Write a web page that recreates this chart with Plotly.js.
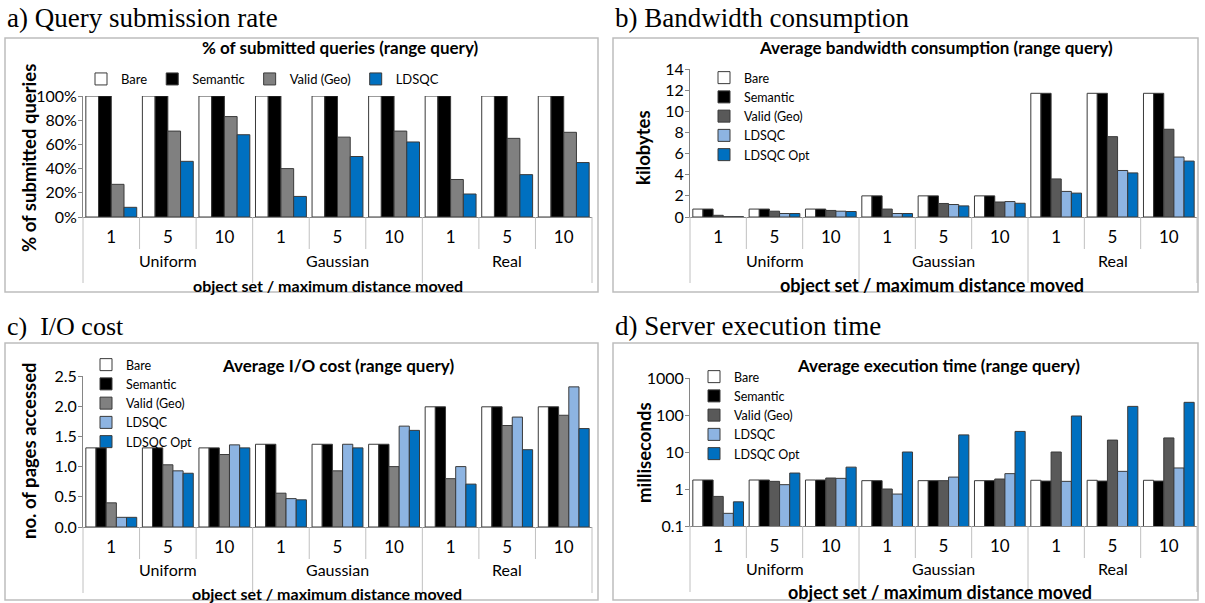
<!DOCTYPE html>
<html>
<head>
<meta charset="utf-8">
<script src="https://cdn.plot.ly/plotly-3.0.1.min.js"></script>
<style>html,body{margin:0;padding:0;background:#fff}#chart{width:1205px;height:603px}</style>
</head>
<body>
<div id="chart"></div>
<script>
// ---------- DATA ----------
const groups = ['Uniform', 'Gaussian', 'Real'];
const distances = ['1', '5', '10'];

// a) % of submitted queries
const submittedBare     = [100, 100, 100, 100, 100, 100, 100, 100, 100];
const submittedSemantic = [100, 100, 100, 100, 100, 100, 100, 100, 100];
const submittedValidGeo = [27, 71, 83, 40, 66, 71, 31, 65, 70];
const submittedLDSQC    = [8, 46, 68, 17, 50, 62, 19, 35, 45];

// b) average bandwidth consumption (kilobytes)
const bandwidthBare      = [0.75, 0.75, 0.75, 2.0, 2.0, 2.0, 11.7, 11.7, 11.7];
const bandwidthSemantic  = [0.75, 0.75, 0.75, 2.0, 2.0, 2.0, 11.7, 11.7, 11.7];
const bandwidthValidGeo  = [0.16, 0.55, 0.62, 0.75, 1.28, 1.42, 3.6, 7.6, 8.3];
const bandwidthLDSQC     = [0.03, 0.33, 0.55, 0.33, 1.18, 1.46, 2.42, 4.4, 5.67];
const bandwidthLDSQCOpt  = [0.03, 0.33, 0.52, 0.33, 1.05, 1.3, 2.26, 4.17, 5.29];

// c) average I/O cost (no. of pages accessed)
const ioBare      = [1.31, 1.31, 1.31, 1.37, 1.37, 1.37, 1.99, 1.99, 1.99];
const ioSemantic  = [1.31, 1.31, 1.31, 1.37, 1.37, 1.37, 1.99, 1.99, 1.99];
const ioValidGeo  = [0.40, 1.03, 1.20, 0.56, 0.93, 1.00, 0.80, 1.68, 1.85];
const ioLDSQC     = [0.16, 0.93, 1.36, 0.47, 1.37, 1.67, 1.00, 1.82, 2.32];
const ioLDSQCOpt  = [0.16, 0.89, 1.31, 0.45, 1.31, 1.60, 0.71, 1.28, 1.63];

// d) average execution time (milliseconds, log scale)
const timeBare      = [1.75, 1.75, 1.75, 1.68, 1.68, 1.68, 1.72, 1.72, 1.72];
const timeSemantic  = [1.75, 1.75, 1.75, 1.68, 1.68, 1.68, 1.64, 1.64, 1.64];
const timeValidGeo  = [0.63, 1.61, 1.98, 1.0, 1.68, 1.86, 10, 21, 24];
const timeLDSQC     = [0.22, 1.31, 1.94, 0.73, 2.1, 2.6, 1.61, 3.0, 3.7];
const timeLDSQCOpt  = [0.45, 2.7, 3.9, 10, 29, 36, 94, 171, 220];

const timeTickVals = [0.1, 1, 10, 100, 1000];

// ---------- LAYOUT HELPERS ----------
const W = 1205, H = 603;
const px = v => v / W;
const py = v => 1 - v / H;
const FONT = 'Lato, "Open Sans", sans-serif';
const SERIF = '"Liberation Serif", "DejaVu Serif", serif';
const categories = [];
groups.forEach(g => distances.forEach(d => categories.push(g + ' ' + d)));
const tickText = [];
groups.forEach(() => distances.forEach(d => tickText.push(d)));

const C = {bare: '#FFFFFF', sem: '#000000', validLight: '#808080', validDark: '#595959',
           ldsqcLight: '#8DB4E2', blue: '#0070C0'};

const panels = [
  {xa: 'x', ya: 'y', lg: 'legend', x0: 83, x1: 592, yTop: 96, yBot: 217,
   box: [5, 38, 598, 292], label: 'a) Query submission rate', ls: 27, lx: 5, ly: 18,
   title: '% of submitted queries (range query)', tx: 340, ty: 48,
   ytitle: '% of submitted queries', ytx: 29, yty: 158, yts: 18.5,
   xtitle: 'object set / maximum distance moved', xtx: 328, xty: 285, xts: 16,
   groupY: 261,
   yaxis: {range: [0, 100], dtick: 20, ticksuffix: '%'},
   legend: {orientation: 'h', x: px(81), y: py(64), font: {family: FONT, size: 13, color: '#000'}},
   series: [['Bare', submittedBare, C.bare], ['Semantic', submittedSemantic, C.sem],
            ['Valid (Geo)', submittedValidGeo, C.validLight], ['LDSQC', submittedLDSQC, C.blue]]},
  {xa: 'x2', ya: 'y2', lg: 'legend2', x0: 690, x1: 1197, yTop: 69, yBot: 217,
   box: [613, 38, 1198, 292], label: 'b) Bandwidth consumption', ls: 27, lx: 613, ly: 18,
   title: 'Average bandwidth consumption (range query)', tx: 936, ty: 48,
   ytitle: 'kilobytes', ytx: 643, yty: 148, yts: 18.5,
   xtitle: 'object set / maximum distance moved', xtx: 932, xty: 285, xts: 18,
   groupY: 260,
   yaxis: {range: [0, 14], dtick: 2},
   legend: {orientation: 'v', x: px(704), y: py(63)},
   series: [['Bare', bandwidthBare, C.bare], ['Semantic', bandwidthSemantic, C.sem],
            ['Valid (Geo)', bandwidthValidGeo, C.validDark], ['LDSQC', bandwidthLDSQC, C.ldsqcLight],
            ['LDSQC Opt', bandwidthLDSQCOpt, C.blue]]},
  {xa: 'x3', ya: 'y3', lg: 'legend3', x0: 83, x1: 592, yTop: 376, yBot: 527,
   box: [5, 343, 598, 600], label: 'c)\u00a0 I/O cost', ls: 26, lx: 5, ly: 326,
   title: 'Average I/O cost (range query)', tx: 338, ty: 365,
   ytitle: 'no. of pages accessed', ytx: 29, yty: 451, yts: 18.5,
   xtitle: 'object set / maximum distance moved', xtx: 327, xty: 593, xts: 16,
   groupY: 569,
   yaxis: {range: [0, 2.5], dtick: 0.5, tickformat: '.1f'},
   legend: {orientation: 'v', x: px(86), y: py(350)},
   series: [['Bare', ioBare, C.bare], ['Semantic', ioSemantic, C.sem],
            ['Valid (Geo)', ioValidGeo, C.validLight], ['LDSQC', ioLDSQC, C.ldsqcLight],
            ['LDSQC Opt', ioLDSQCOpt, C.blue]]},
  {xa: 'x4', ya: 'y4', lg: 'legend4', x0: 690, x1: 1197, yTop: 378, yBot: 526,
   box: [613, 343, 1198, 600], label: 'd) Server execution time', ls: 27, lx: 613, ly: 326,
   title: 'Average execution time (range query)', tx: 938, ty: 365,
   ytitle: 'milliseconds', ytx: 644, yty: 453, yts: 18.5,
   xtitle: 'object set / maximum distance moved', xtx: 940, xty: 592, xts: 18,
   groupY: 568,
   yaxis: {type: 'log', range: [-1, 3], tickmode: 'array', tickvals: timeTickVals,
           ticktext: timeTickVals.map(v => String(v))},
   legend: {orientation: 'v', x: px(694), y: py(362)},
   series: [['Bare', timeBare, C.bare], ['Semantic', timeSemantic, C.sem],
            ['Valid (Geo)', timeValidGeo, C.validDark], ['LDSQC', timeLDSQC, C.ldsqcLight],
            ['LDSQC Opt', timeLDSQCOpt, C.blue]]}
];

const traces = [];
const layout = {
  width: W, height: H, margin: {l: 0, r: 0, t: 0, b: 0},
  paper_bgcolor: '#fff', plot_bgcolor: 'rgba(0,0,0,0)',
  barmode: 'group', bargap: 0.1, bargroupgap: 0,
  showlegend: true, hovermode: false,
  font: {family: FONT, color: '#000'},
  shapes: [], annotations: []
};

panels.forEach(p => {
  p.series.forEach(([name, vals, color]) => {
    traces.push({
      type: 'bar', name: name, x: categories, y: vals,
      xaxis: p.xa, yaxis: p.ya, legend: p.lg,
      marker: {color: color, line: {color: '#3a3a3a', width: 1}}
    });
  });
  const xKey = 'xaxis' + p.xa.slice(1);
  const yKey = 'yaxis' + p.ya.slice(1);
  layout[xKey] = {
    domain: [px(p.x0), px(p.x1)], anchor: p.ya, type: 'category',
    range: [-0.5, categories.length - 0.5],
    tickmode: 'array', tickvals: categories, ticktext: tickText,
    ticks: '', showgrid: false, zeroline: false,
    showline: true, linecolor: '#868686', linewidth: 1,
    tickfont: {family: FONT, size: 17, color: '#000'}, ticklabelstandoff: 5,
    fixedrange: true
  };
  layout[yKey] = Object.assign({
    domain: [py(p.yBot), py(p.yTop)], anchor: p.xa,
    showgrid: false, zeroline: false, showline: true, linecolor: '#868686', linewidth: 1,
    ticks: 'outside', ticklen: 4, tickcolor: '#868686', ticklabelstandoff: -2,
    tickfont: {family: FONT, size: 16, color: '#000'}, fixedrange: true
  }, p.yaxis);
  layout[p.lg] = Object.assign({
    xanchor: 'left', yanchor: 'top', bgcolor: 'rgba(0,0,0,0)', borderwidth: 0,
    font: {family: FONT, size: 12.5, color: '#000'}, traceorder: 'normal'
  }, p.legend);

  // panel frame
  layout.shapes.push({type: 'rect', xref: 'paper', yref: 'paper',
    x0: px(p.box[0]), x1: px(p.box[2]), y0: py(p.box[3]), y1: py(p.box[1]),
    line: {color: '#bdbdbd', width: 1.5}, layer: 'below'});
  // category dividers
  const n = categories.length;
  for (let i = 0; i <= n; i++) {
    const outer = i % distances.length === 0;
    layout.shapes.push({type: 'line', xref: p.xa + ' domain', yref: 'paper',
      x0: i / n, x1: i / n, y0: py(p.yBot), y1: py(p.yBot + (outer ? 66 : 32)),
      line: {color: '#c0c0c0', width: 1}});
  }
  // group labels
  groups.forEach((g, gi) => {
    layout.annotations.push({xref: p.xa + ' domain', yref: 'paper',
      x: (gi * distances.length + distances.length / 2) / n, y: py(p.groupY),
      text: g, showarrow: false, xanchor: 'center', yanchor: 'middle',
      font: {family: FONT, size: 16, color: '#000'}});
  });
  // texts
  layout.annotations.push(
    {xref: 'paper', yref: 'paper', x: px(p.lx), y: py(p.ly), text: p.label, showarrow: false,
     xanchor: 'left', yanchor: 'middle', font: {family: SERIF, size: p.ls, color: '#000'}},
    {xref: 'paper', yref: 'paper', x: px(p.tx), y: py(p.ty), text: '<b>' + p.title + '</b>', showarrow: false,
     xanchor: 'center', yanchor: 'middle', font: {family: FONT, size: 17, color: '#000'}},
    {xref: 'paper', yref: 'paper', x: px(p.ytx), y: py(p.yty), text: '<b>' + p.ytitle + '</b>', showarrow: false,
     textangle: -90, xanchor: 'center', yanchor: 'middle', font: {family: FONT, size: p.yts, color: '#000'}},
    {xref: 'paper', yref: 'paper', x: px(p.xtx), y: py(p.xty), text: '<b>' + p.xtitle + '</b>', showarrow: false,
     xanchor: 'center', yanchor: 'middle', font: {family: FONT, size: p.xts, color: '#000'}}
  );
});

Plotly.newPlot('chart', traces, layout, {displayModeBar: false, staticPlot: true});
</script>
</body>
</html>
